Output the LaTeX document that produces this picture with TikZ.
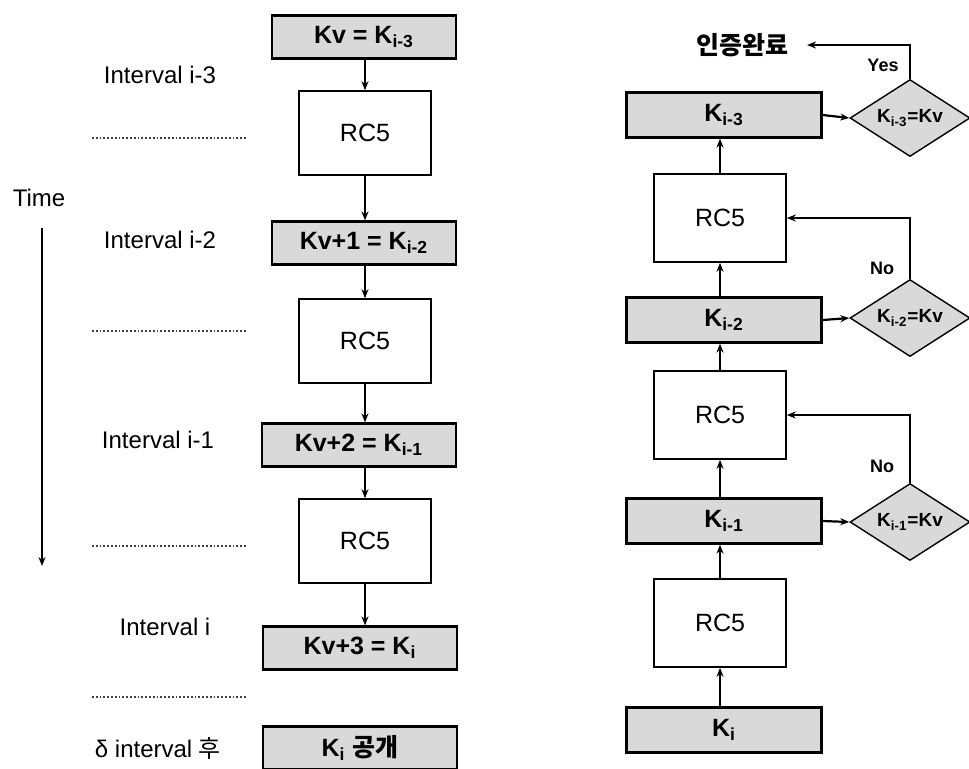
\documentclass[tikz,border=0pt]{standalone}
\usepackage{fontspec}
\setmainfont{Liberation Sans}
\newfontfamily\kr{Noto Sans CJK KR}
\usetikzlibrary{arrows.meta, shapes.geometric}

\newcommand{\ksub}[1]{\textsubscript{#1}}

\begin{document}
\begin{tikzpicture}[>=Stealth, x=0.5pt, y=-0.5pt,
    keybox/.style={draw, line width=1.1pt, fill=gray!30, minimum width=92pt, minimum height=21.5pt, inner sep=0pt, font=\fontsize{12.5}{14}\selectfont\bfseries},
    rcbox/.style={draw, line width=0.8pt, fill=white, minimum width=66pt, minimum height=42pt, font=\fontsize{12.5}{14}\selectfont},
    test/.style={diamond, draw, line width=0.7pt, fill=gray!30, aspect=1.56, minimum width=60pt, minimum height=38.5pt, inner sep=0pt, font=\fontsize{9.5}{11}\selectfont\bfseries},
    flow/.style={-{Stealth[length=4.5pt, width=3.5pt]}, line width=1.1pt},
    lbl/.style={font=\fontsize{12}{14}\selectfont},
    ans/.style={font=\fontsize{9}{10}\selectfont\bfseries},
    tick/.style={densely dotted, line width=0.9pt, gray!50!black}]

    \useasboundingbox (0,0) rectangle (969,768);

    % ==========================================
    % Left: key chain over time
    % ==========================================
    \node[keybox] (kv0) at (364,37) {Kv = K\ksub{i-3}};
    \node[rcbox] (rcl1) at (365,133) {RC5};
    \node[keybox] (kv1) at (364,243) {Kv+1 = K\ksub{i-2}};
    \node[rcbox] (rcl2) at (365,341) {RC5};
    \node[keybox, minimum width=97pt] (kv2) at (359,445) {Kv+2 = K\ksub{i-1}};
    \node[rcbox] (rcl3) at (365,541) {RC5};
    \node[keybox, minimum width=97pt] (kv3) at (360,648) {Kv+3 = K\ksub{i}};
    \node[keybox, minimum width=97pt] (pub) at (360,748) {K\ksub{i}\ {\kr 공개}};

    \draw[flow] (kv0.south -| rcl1.north) -- (rcl1.north);
    \draw[flow] (rcl1.south) -- (rcl1.south |- kv1.north);
    \draw[flow] (kv1.south -| rcl2.north) -- (rcl2.north);
    \draw[flow] (rcl2.south) -- (rcl2.south |- kv2.north);
    \draw[flow] (kv2.south -| rcl3.north) -- (rcl3.north);
    \draw[flow] (rcl3.south) -- (rcl3.south |- kv3.north);

    % interval labels
    \node[lbl] (int3) at (160,75) {Interval i-3};
    \node[lbl] (int2) at (160,240) {Interval i-2};
    \node[lbl] (int1) at (158,440) {Interval i-1};
    \node[lbl] (int0) at (165,627) {Interval i};
    \node[lbl] (after) at (158,748) {δ interval {\kr 후}};
    \foreach \y in {138,331,546,697}
        \draw[tick] (92,\y) -- (247,\y);

    % time axis
    \node[lbl] (time) at (39,198) {Time};
    \coordinate (tStart) at (42,228);
    \coordinate (tEnd) at (42,566);
    \draw[flow] (tStart) -- (tEnd);

    % ==========================================
    % Right: verification
    % ==========================================
    \node[keybox, minimum width=97.5pt, minimum height=22.5pt] (ki3) at (724,115) {K\ksub{i-3}};
    \node[rcbox, minimum height=44pt] (rca) at (720,218) {RC5};
    \node[keybox, minimum width=97.5pt, minimum height=22.5pt] (ki2) at (724,320) {K\ksub{i-2}};
    \node[rcbox, minimum height=44pt] (rcb) at (720,415) {RC5};
    \node[keybox, minimum width=97.5pt, minimum height=22.5pt] (ki1) at (724,521) {K\ksub{i-1}};
    \node[rcbox, minimum height=44pt] (rcc) at (720,623) {RC5};
    \node[keybox, minimum width=97.5pt, minimum height=22.5pt] (ki0) at (724,730) {K\ksub{i}};

    \node[test] (d3) at (910,118) {K\ksub{i-3}=Kv};
    \node[test] (d2) at (910,318) {K\ksub{i-2}=Kv};
    \node[test] (d1) at (910,522) {K\ksub{i-1}=Kv};

    \node[font=\fontsize{12.5}{14}\selectfont\bfseries\kr] (done) at (742,45) {인증완료};

    \draw[flow] (ki0.north -| rcc.south) -- (rcc.south);
    \draw[flow] (rcc.north) -- (rcc.north |- ki1.south);
    \draw[flow] (ki1.north -| rcb.south) -- (rcb.south);
    \draw[flow] (rcb.north) -- (rcb.north |- ki2.south);
    \draw[flow] (ki2.north -| rca.south) -- (rca.south);
    \draw[flow] (rca.north) -- (rca.north |- ki3.south);

    \draw[flow] (ki3.east) -- (d3.west);
    \draw[flow] (ki2.east) -- (d2.west);
    \draw[flow] (ki1.east) -- (d1.west);

    \draw[flow] (d3.north) |- ([xshift=6pt]done.east);
    \draw[flow] (d2.north) |- (rca.east);
    \draw[flow] (d1.north) |- (rcb.east);

    \node[ans] (yes) at (883,65) {Yes};
    \node[ans] (no2) at (882,268) {No};
    \node[ans] (no1) at (882,466) {No};

\end{tikzpicture}
\end{document}
